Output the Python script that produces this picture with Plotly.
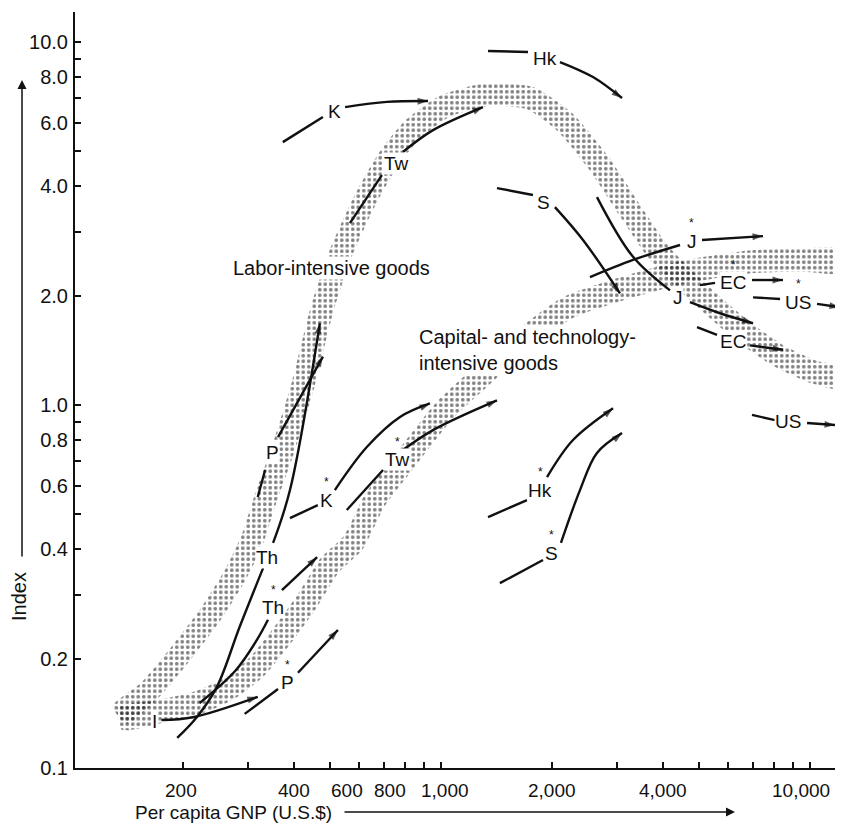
import numpy as np
import plotly.graph_objects as go

# ---------------- axis ticks ----------------
x_tick_vals = [200, 300, 400, 500, 600, 700, 800, 900, 1000, 2000, 3000, 4000,
               5000, 6000, 7000, 8000, 9000, 10000]
x_label_vals = [200, 400, 600, 800, 1000, 2000, 4000, 10000]
x_label_text = ['200', '400', '600', '800', '1,000', '2,000', '4,000', '10,000']
y_tick_vals = [0.1, 0.2, 0.3, 0.4, 0.5, 0.6, 0.7, 0.8, 0.9, 1, 2, 3, 4, 5, 6, 7, 8, 9, 10]
y_tick_text = ['0.1', '0.2', '', '0.4', '', '0.6', '', '0.8', '', '1.0', '2.0', '',
               '4.0', '', '6.0', '', '8.0', '', '10.0']

# ---------------- shaded bands (centre lines) ----------------
labor_gnp = [135, 163, 196, 237, 277, 308, 334, 373, 423, 476, 533, 623, 719, 835,
             1026, 1316, 1744, 2168, 2666, 3253, 3851, 4446, 5360, 6670, 8298, 10320, 12290]
labor_idx = [0.140, 0.164, 0.205, 0.264, 0.340, 0.425, 0.547, 0.751, 1.135, 1.83, 2.59,
             3.67, 4.73, 5.72, 6.66, 7.15, 7.01, 6.02, 4.67, 3.44, 2.67, 2.28, 1.91,
             1.58, 1.36, 1.23, 1.19]
capital_gnp = [135, 173, 222, 268, 317, 378, 436, 500, 578, 663, 775, 1026, 1276, 1638,
               2196, 3000, 4529, 6880, 9397, 12290]
capital_idx = [0.137, 0.143, 0.152, 0.166, 0.190, 0.237, 0.290, 0.362, 0.417, 0.547,
               0.675, 0.969, 1.19, 1.49, 1.85, 2.07, 2.32, 2.48, 2.51, 2.49]

# ---------------- country paths: tail (before label) and head (after label, arrow) ----------------
K_tail = ([373, 479], [5.30, 6.22]);            K_head = ([550, 714, 923], [6.62, 6.84, 6.88])
Tw_tail = ([567, 692], [3.17, 4.30]);           Tw_head = ([789, 952, 1300], [4.98, 5.72, 6.62])
Hk_tail = ([1342, 1722], [9.45, 9.39]);         Hk_head = ([2102, 2583, 3096], [8.81, 8.01, 7.01])
S_tail = ([1419, 1776], [3.96, 3.79]);          S_head = ([2037, 2427, 3057], [3.51, 2.85, 2.03])
J_tail = ([2648, 3316, 4176], [3.74, 2.56, 2.07]); J_head = ([4731, 5706, 7010], [1.92, 1.79, 1.68])
EC_tail = ([4943, 5600], [1.64, 1.56]);         EC_head = ([6880, 8454], [1.46, 1.42])
US_tail = ([6966, 8040], [0.939, 0.909]);       US_head = ([9820, 11690], [0.892, 0.881])
P_tail = ([319, 334], [0.558, 0.662]);          P_head = ([362, 479], [0.816, 1.36])
Th_tail = ([193, 218, 247, 285, 330], [0.121, 0.138, 0.167, 0.245, 0.356])
Th_head = ([351, 390, 470], [0.417, 0.583, 1.68])
I_head = ([175, 213, 319], [0.1356, 0.138, 0.157])
Ks_tail = ([390, 464], [0.488, 0.530]);         Ks_head = ([516, 630, 775, 934], [0.583, 0.766, 0.927, 1.01])
Tws_tail = ([556, 697], [0.514, 0.662]);        Tws_head = ([775, 952, 1419], [0.742, 0.853, 1.03])
Hks_tail = ([1342, 1711], [0.491, 0.547]);      Hks_head = ([1939, 2280, 2927], [0.633, 0.801, 0.98])
Ss_tail = ([1445, 1891], [0.323, 0.374]);       Ss_head = ([2115, 2382, 2648, 3096], [0.417, 0.583, 0.738, 0.837])
Js_tail = ([2535, 3316, 4446], [2.25, 2.51, 2.76]); Js_head = ([5099, 7461], [2.85, 2.92])
ECs_tail = ([5036, 5531], [2.14, 2.17]);        ECs_head = ([6966, 8454], [2.21, 2.21])
USs_tail = ([7010, 8298], [1.98, 1.96]);        USs_head = ([10450, 12060], [1.90, 1.86])
Ths_tail = ([222, 277, 317, 340], [0.151, 0.185, 0.225, 0.256]); Ths_head = ([371, 462], [0.309, 0.381])
Ps_tail = ([294, 362], [0.141, 0.165]);         Ps_head = ([410, 526], [0.183, 0.240])

tails = [K_tail, Tw_tail, Hk_tail, S_tail, J_tail, EC_tail, US_tail, P_tail, Th_tail,
         Ks_tail, Tws_tail, Hks_tail, Ss_tail, Js_tail, ECs_tail, USs_tail, Ths_tail, Ps_tail]
heads = [K_head, Tw_head, Hk_head, S_head, J_head, EC_head, US_head, P_head, Th_head, I_head,
         Ks_head, Tws_head, Hks_head, Ss_head, Js_head, ECs_head, USs_head, Ths_head, Ps_head]

label_text = ['K', 'Tw', 'Hk', 'S', 'J', 'EC', 'US', 'P', 'Th', 'I',
              'K', 'Tw', 'Hk', 'S', 'J', 'EC', 'US', 'Th', 'P']
label_star = [0, 0, 0, 0, 0, 0, 0, 0, 0, 0, 1, 1, 1, 1, 1, 1, 1, 1, 1]
label_gnp = [516, 760, 1915, 1891, 4391, 6188, 8722, 349, 338, 168,
             491, 765, 1856, 2000, 4788, 6188, 9283, 351, 385]
label_idx = [6.42, 4.62, 9.03, 3.62, 1.98, 1.50, 0.898, 0.742, 0.381, 0.134,
             0.547, 0.706, 0.583, 0.391, 2.83, 2.17, 1.92, 0.276, 0.172]

FONT = 'Liberation Sans, Arial, sans-serif'
INK = '#111111'
PX_X, PX_Y = 369.0, 363.0   # approx. pixels per decade, for band thickness
HALF_W = 11.5


def band_polygon(gx, gy):
    u = np.log10(np.array(gx, float)) * PX_X
    v = np.log10(np.array(gy, float)) * PX_Y
    du, dv = np.gradient(u), np.gradient(v)
    n = np.hypot(du, dv)
    nx, ny = -dv / n, du / n
    u1, v1 = u + nx * HALF_W, v + ny * HALF_W
    u2, v2 = u - nx * HALF_W, v - ny * HALF_W
    uu = np.concatenate([u1, u2[::-1], u1[:1]])
    vv = np.concatenate([v1, v2[::-1], v1[:1]])
    return 10 ** (uu / PX_X), 10 ** (vv / PX_Y)


fig = go.Figure()

for gx, gy in [(labor_gnp, labor_idx), (capital_gnp, capital_idx)]:
    bx, by = band_polygon(gx, gy)
    fig.add_trace(go.Scatter(
        x=bx, y=by, mode='lines', fill='toself',
        line=dict(width=0, shape='spline', smoothing=0.6),
        fillcolor='rgba(0,0,0,0)',
        fillpattern=dict(shape='.', fgcolor='#000000', bgcolor='rgba(255,255,255,0)',
                         size=5.5, solidity=0.36),
        hoverinfo='skip', showlegend=False))

for gx, gy in tails:
    fig.add_trace(go.Scatter(x=gx, y=gy, mode='lines',
                             line=dict(color=INK, width=2.4, shape='spline'),
                             hoverinfo='skip', showlegend=False))

for gx, gy in heads:
    sizes = [0] * (len(gx) - 1) + [11]
    fig.add_trace(go.Scatter(x=gx, y=gy, mode='lines+markers',
                             line=dict(color=INK, width=2.4, shape='spline'),
                             marker=dict(symbol='arrow', size=sizes, angleref='previous',
                                         color=INK, line=dict(width=0)),
                             cliponaxis=False, hoverinfo='skip', showlegend=False))

annotations = []
for t, s, gx, gy in zip(label_text, label_star, label_gnp, label_idx):
    annotations.append(dict(x=np.log10(gx), y=np.log10(gy), xref='x', yref='y', text=t,
                            showarrow=False, font=dict(family=FONT, size=19, color=INK),
                            bgcolor='white', borderpad=0))
    if s:
        annotations.append(dict(x=np.log10(gx), y=np.log10(gy), xref='x', yref='y', text='*',
                                showarrow=False, yshift=18,
                                font=dict(family=FONT, size=12, color=INK)))

# x tick labels (the printed labels sit slightly off some tick marks)
label_nudge = {600: -12, 800: -15, 1000: 4, 200: -2, 10000: -9}
for v, t in zip(x_label_vals, x_label_text):
    annotations.append(dict(x=np.log10(v), y=0, xref='x', yref='paper', text=t,
                            showarrow=False, yanchor='middle', xanchor='center',
                            yshift=-22, xshift=label_nudge.get(v, 0),
                            font=dict(family=FONT, size=19, color=INK)))

# band captions
annotations.append(dict(x=np.log10(272), y=np.log10(2.385), xref='x', yref='y',
                        text='Labor-intensive goods', xanchor='left', showarrow=False,
                        font=dict(family=FONT, size=20, color=INK), bgcolor='white',
                        borderpad=0))
annotations.append(dict(x=np.log10(867), y=np.log10(1.42), xref='x', yref='y',
                        text='Capital- and technology-<br>intensive goods', xanchor='left',
                        align='left', showarrow=False,
                        font=dict(family=FONT, size=20, color=INK), bgcolor='white',
                        borderpad=0))

# axis titles with arrows (paper coords: plot area is 768 x 756 px, origin at px (75, 768))
W, H = 768.0, 756.0
annotations.append(dict(x=(19 - 75) / W, y=(768 - 597) / H, xref='paper', yref='paper',
                        text='Index', textangle=-90, showarrow=False,
                        xanchor='center', yanchor='middle',
                        font=dict(family=FONT, size=20, color=INK)))
annotations.append(dict(x=(22 - 75) / W, y=(768 - 80) / H, xref='paper', yref='paper',
                        text='', showarrow=True, ax=0, ay=478, axref='pixel', ayref='pixel',
                        arrowhead=2, arrowsize=1.2, arrowwidth=1.5, arrowcolor=INK))
annotations.append(dict(x=(133 - 75) / W, y=(768 - 812) / H, xref='paper', yref='paper',
                        text='Per capita GNP (U.S.$)', xanchor='left', yanchor='middle',
                        showarrow=False, font=dict(family=FONT, size=19, color=INK)))
annotations.append(dict(x=(735 - 75) / W, y=(768 - 812) / H, xref='paper', yref='paper',
                        text='', showarrow=True, ax=-392, ay=0, axref='pixel', ayref='pixel',
                        arrowhead=2, arrowsize=1.2, arrowwidth=1.5, arrowcolor=INK))

# the page body has an 8 px margin, so the figure is 8 px smaller and margins compensate
fig.update_layout(
    width=835, height=816,
    margin=dict(l=67, r=0, t=4, b=56, autoexpand=False),
    paper_bgcolor='white', plot_bgcolor='white',
    font=dict(family=FONT, size=20, color=INK),
    annotations=annotations,
    showlegend=False,
)
fig.update_xaxes(type='log', range=[np.log10(102), np.log10(12290)],
                 tickvals=x_tick_vals, showticklabels=False,
                 ticks='inside', ticklen=6, tickwidth=1.5, tickcolor=INK,
                 showline=True, linecolor=INK, linewidth=2, mirror=False,
                 showgrid=False, zeroline=False)
fig.update_yaxes(type='log', range=[-1, np.log10(12.1)],
                 tickvals=y_tick_vals, ticktext=y_tick_text,
                 ticks='inside', ticklen=6, tickwidth=1.5, tickcolor=INK,
                 showline=True, linecolor=INK, linewidth=2, mirror=False,
                 showgrid=False, zeroline=False, ticklabelstandoff=1,
                 tickfont=dict(family=FONT, size=20, color=INK))

fig.write_html('out.html')
